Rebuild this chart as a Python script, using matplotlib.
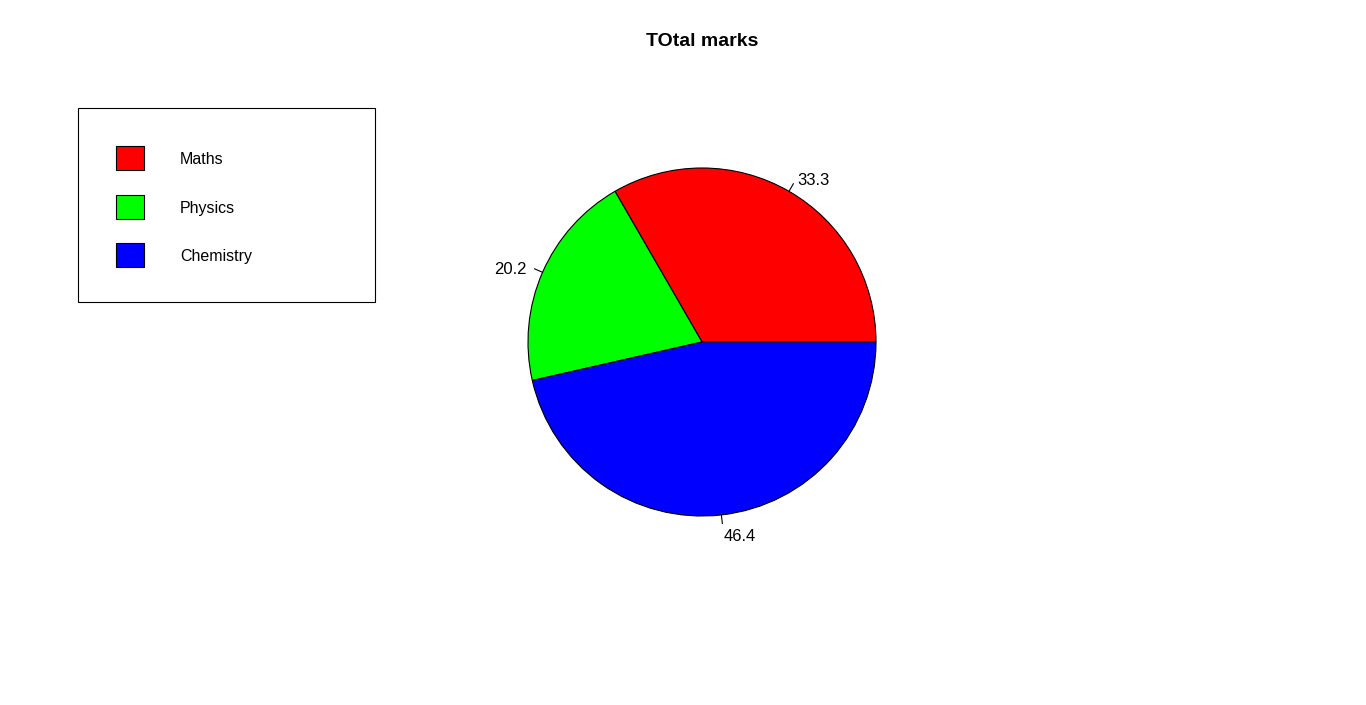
import numpy as np
import matplotlib
matplotlib.use("Agg")
import matplotlib.pyplot as plt
from matplotlib.patches import Rectangle

plt.rcParams["font.family"] = ["Liberation Sans", "DejaVu Sans"]

subjects = ["Maths", "Physics", "Chemistry"]
shares = [33.3, 20.2, 46.4]
colors = ["#ff0000", "#00ff00", "#0000ff"]

W, H = 1366, 705
fig = plt.figure(figsize=(W / 100, H / 100), dpi=100)
ax = fig.add_axes([0, 0, 1, 1])

cx, cy, r = 702, H - 342, 174
ax.pie(shares, colors=colors, center=(cx, cy), radius=r, startangle=0,
       counterclock=True,
       wedgeprops=dict(edgecolor="black", linewidth=0.8))

# R-style labels: tick from r to 1.05r, text at 1.1r
frac = np.array(shares) / np.sum(shares)
edges = np.concatenate([[0], np.cumsum(frac)]) * 2 * np.pi
for s, a0, a1 in zip(shares, edges[:-1], edges[1:]):
    m = (a0 + a1) / 2
    dx, dy = np.cos(m), np.sin(m)
    ax.plot([cx + r * dx, cx + 1.05 * r * dx], [cy + r * dy, cy + 1.05 * r * dy],
            color="black", lw=0.8)
    ax.text(cx + 1.1 * r * dx, cy + 1.1 * r * dy - 4, f"{s}", fontsize=12,
            ha="left" if dx >= 0 else "right", va="center")

ax.text(cx, H - 41, "TOtal marks", fontsize=14, fontweight="bold",
        ha="center", va="center")

# legend box
ax.add_patch(Rectangle((78, H - 302), 297, 194, fill=False, edgecolor="black", lw=0.8))
for i, (name, c) in enumerate(zip(subjects, colors)):
    y = H - (158 + 48.5 * i)
    ax.add_patch(Rectangle((116, y - 12), 28, 24, facecolor=c, edgecolor="black", lw=0.8))
    ax.text(180, y - 1.5, name, fontsize=11.5, ha="left", va="center")

ax.set_xlim(0, W)
ax.set_ylim(0, H)
ax.set_aspect("auto")
ax.axis("off")
fig.savefig("out.png", dpi=100)
